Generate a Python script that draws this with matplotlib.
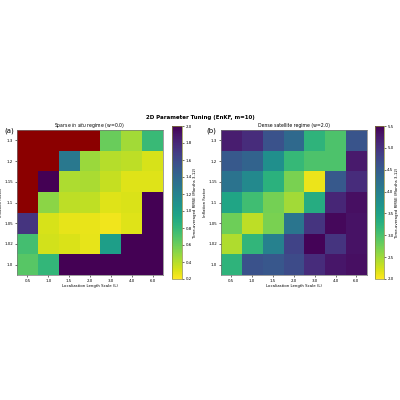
import numpy as np
import matplotlib
matplotlib.use("Agg")
import matplotlib.pyplot as plt

loc_scales = ["0.5", "1.0", "1.5", "2.0", "3.0", "4.0", "6.0"]
inflation = ["1.3", "1.2", "1.15", "1.1", "1.05", "1.02", "1.0"]  # top to bottom

nan = np.nan
# Sparse in situ regime (w=0.0); NaN = diverged (drawn dark red)
rmse_sparse = [
    [nan, nan, nan, nan, 0.61, 0.45, 0.78],
    [nan, nan, 1.28, 0.47, 0.40, 0.38, 0.31],
    [nan, 2.00, 0.42, 0.43, 0.36, 0.29, 0.29],
    [nan, 0.51, 0.38, 0.37, 0.29, 0.30, 2.00],
    [1.73, 0.31, 0.27, 0.26, 0.24, 0.29, 2.00],
    [0.74, 0.32, 0.30, 0.27, 0.99, 2.00, 2.00],
    [0.67, 0.81, 2.00, 2.00, 2.00, 2.00, 2.00],
]
# Dense satellite regime (w=2.0)
rmse_dense = [
    [5.22, 5.05, 4.62, 4.30, 3.22, 2.98, 4.59],
    [4.52, 4.38, 3.75, 3.15, 2.98, 2.98, 5.25],
    [4.17, 3.85, 3.26, 2.70, 2.10, 4.52, 5.05],
    [3.44, 3.08, 2.73, 2.49, 3.33, 5.12, 5.36],
    [2.77, 2.35, 2.70, 4.14, 4.98, 5.43, 5.33],
    [2.42, 3.19, 3.96, 4.80, 5.47, 4.98, 5.33],
    [3.23, 4.62, 4.55, 4.70, 5.05, 5.29, 5.36],
]

fig = plt.figure(figsize=(4, 4), dpi=100)

cmap = plt.get_cmap("viridis_r").copy()
cmap.set_bad("darkred")

tick_fs = 2.9
lab_fs = 2.8

def panel(ax_rect, cax_rect, data, vmin, vmax, cticks, title, tag, tag_x):
    ax = fig.add_axes(ax_rect)
    cax = fig.add_axes(cax_rect)
    arr = np.ma.masked_invalid(np.array(data, dtype=float))
    im = ax.imshow(arr, cmap=cmap, vmin=vmin, vmax=vmax, aspect="auto",
                   interpolation="nearest")
    ax.set_xticks(range(len(loc_scales)))
    ax.set_xticklabels(loc_scales)
    ax.set_yticks(range(len(inflation)))
    ax.set_yticklabels(inflation)
    ax.tick_params(labelsize=tick_fs, length=1.5, width=0.4, pad=1.2)
    ax.set_xlabel("Localization Length Scale (L)", fontsize=lab_fs, labelpad=1)
    ax.set_ylabel("Inflation Factor", fontsize=lab_fs, labelpad=1)
    ax.set_title(title, fontsize=3.3, pad=2)
    for s in ax.spines.values():
        s.set_linewidth(0.5)
        s.set_color("#777777")
    cb = fig.colorbar(im, cax=cax)
    cb.set_ticks(cticks)
    cb.ax.tick_params(labelsize=tick_fs, length=1.5, width=0.4, pad=1)
    cb.set_label("Time-averaged RMSE (Months 3-12)", fontsize=lab_fs, labelpad=1.2)
    cb.outline.set_linewidth(0.5)
    cb.outline.set_edgecolor("#8a8a3a")
    fig.text(tag_x, 0.672, tag, fontsize=5, ha="left", va="center")
    return ax

panel([0.0425, 0.3125, 0.365, 0.3625], [0.43, 0.3025, 0.025, 0.3825],
      rmse_sparse, 0.2, 2.0, np.arange(0.2, 2.01, 0.2),
      r"Sparse $\it{in\ situ}$ regime (w=0.0)", "(a)", 0.010)
panel([0.552, 0.3125, 0.365, 0.3625], [0.937, 0.3025, 0.0225, 0.3825],
      rmse_dense, 2.0, 5.5, np.arange(2.0, 5.51, 0.5),
      "Dense satellite regime (w=2.0)", "(b)", 0.516)

fig.text(0.5, 0.7075, "2D Parameter Tuning (EnKF, m=10)", fontsize=4.0,
         fontweight="bold", ha="center", va="center")

fig.savefig("out.png", dpi=100)
